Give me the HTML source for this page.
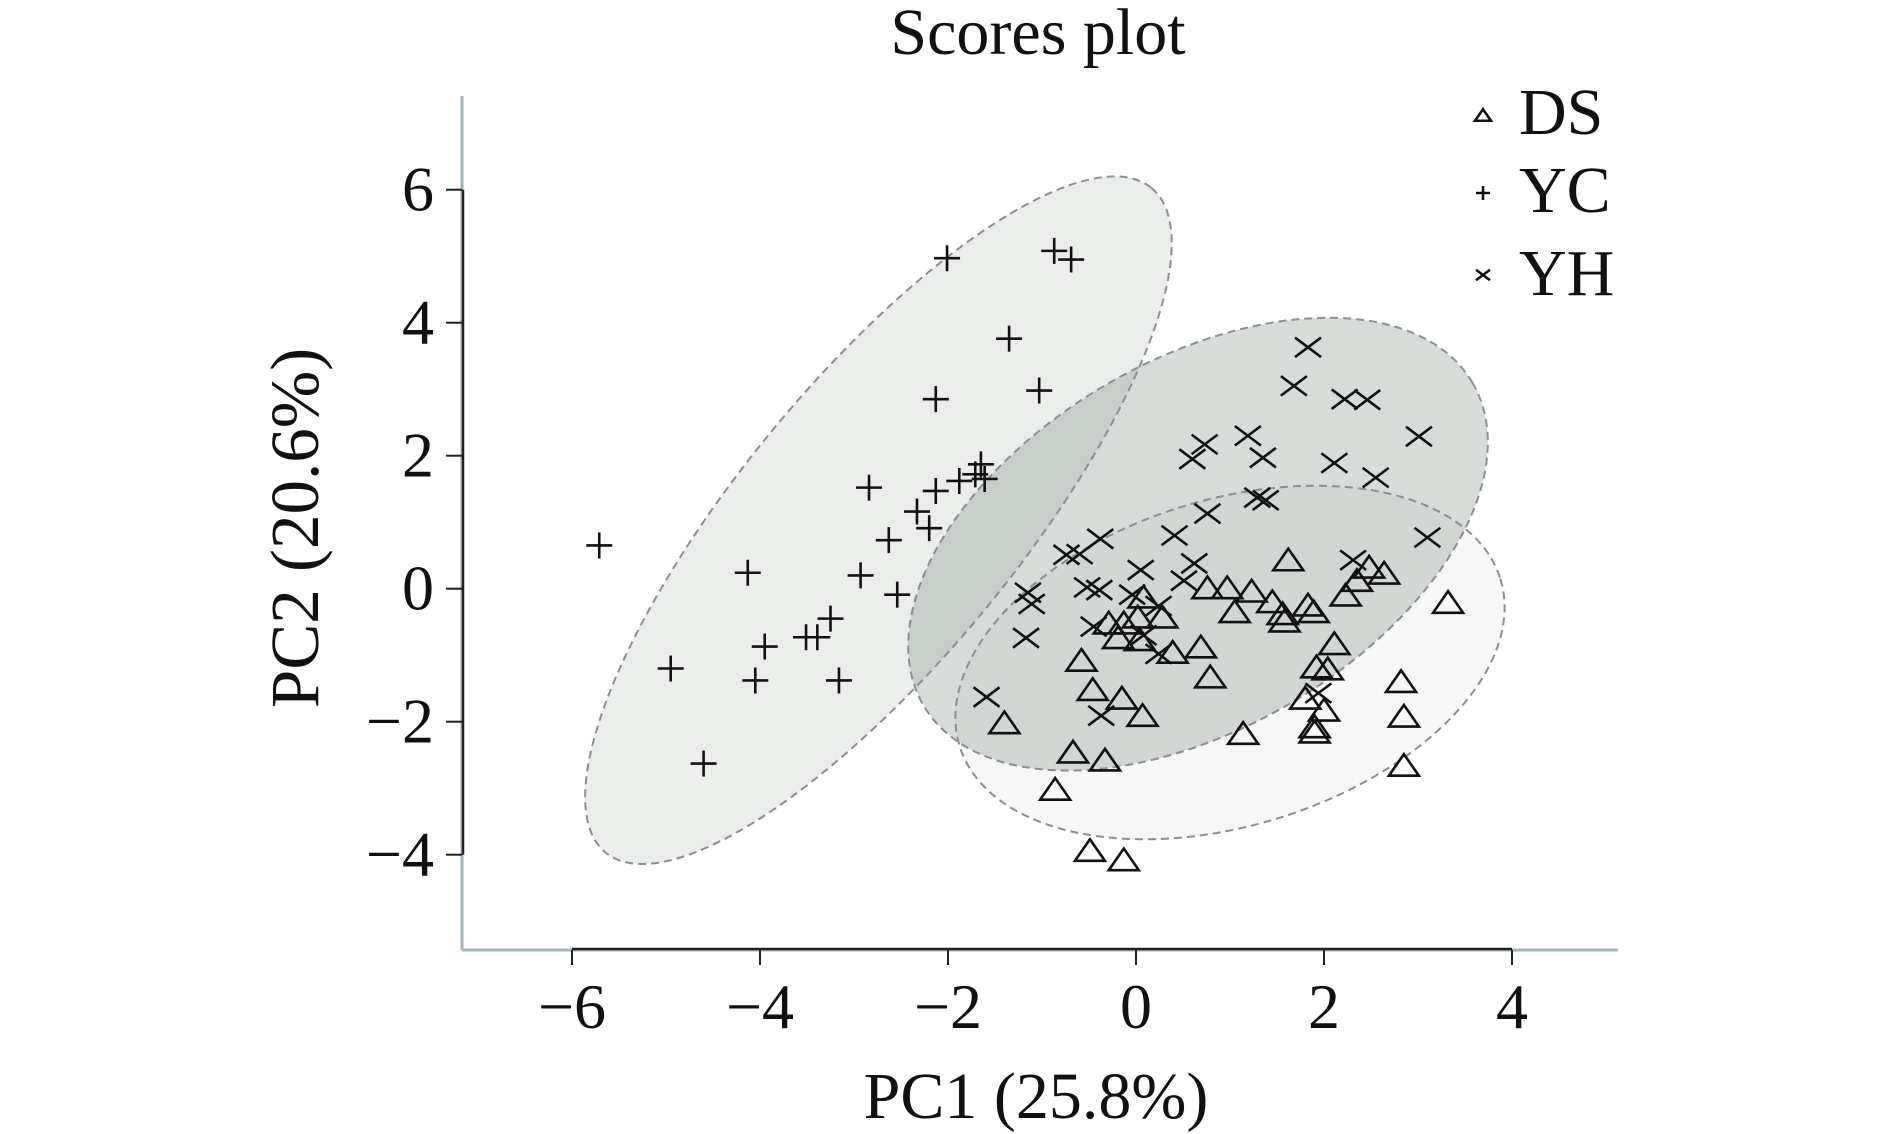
<!DOCTYPE html>
<html><head><meta charset="utf-8"><style>
html,body{margin:0;padding:0;background:#fff;}
svg{display:block;font-family:"Liberation Serif",serif;}
</style></head><body>
<svg id="chart" width="1890" height="1134" viewBox="0 0 1890 1134">
<g id="ell"></g><g id="pts"></g><g id="axes"></g>
<text x="1038" y="54" text-anchor="middle" font-size="66" fill="#111">Scores plot</text>
<text x="1036" y="1118" text-anchor="middle" font-size="66" fill="#111">PC1 (25.8%)</text>
<text transform="translate(318 528) rotate(-90)" text-anchor="middle" font-size="69" fill="#111">PC2 (20.6%)</text>
</svg>
<script>
const xTicks=[-6,-4,-2,0,2,4];
const yTicks=[-4,-2,0,2,4,6];
const dsX=[1.62,0.76,0.97,1.23,1.45,1.83,1.89,1.56,1.58,1.05,2.23,2.35,2.48,2.64,3.32,0.08,-0.29,-0.13,0.02,0.28,-0.19,0.04,0.39,0.69,-0.58,0.79,2.11,1.92,2.04,2.82,-0.46,-0.15,0.07,1.80,2.00,2.85,1.90,1.90,1.14,-1.40,-0.67,-0.33,2.85,-0.86,-0.49,-0.13];
const dsY=[0.44,0.02,0.02,-0.03,-0.19,-0.24,-0.34,-0.37,-0.48,-0.34,-0.09,0.13,0.33,0.24,-0.20,-0.12,-0.51,-0.51,-0.42,-0.42,-0.73,-0.76,-0.95,-0.87,-1.07,-1.32,-0.82,-1.17,-1.20,-1.39,-1.51,-1.64,-1.90,-1.64,-1.82,-1.91,-2.07,-2.15,-2.17,-2.01,-2.45,-2.57,-2.65,-3.01,-3.93,-4.07];
const ycX=[-5.71,-4.95,-4.60,-4.13,-4.05,-3.95,-3.51,-3.39,-3.25,-3.16,-2.93,-2.84,-2.63,-2.54,-2.33,-2.20,-2.13,-2.13,-2.01,-1.88,-1.71,-1.65,-1.61,-1.35,-1.03,-0.87,-0.69];
const ycY=[0.65,-1.20,-2.63,0.24,-1.38,-0.87,-0.73,-0.73,-0.45,-1.38,0.20,1.52,0.73,-0.09,1.16,0.91,1.47,2.85,4.97,1.62,1.72,1.87,1.65,3.76,2.98,5.08,4.95];
const yhX=[1.83,1.68,2.22,2.46,3.01,0.73,0.60,1.19,1.35,2.11,2.55,1.29,1.38,0.76,0.41,-0.38,-0.74,-0.60,3.10,0.62,0.05,0.51,2.31,-1.15,-1.11,-0.52,-0.39,-0.04,0.24,-0.45,-1.17,0.08,0.24,-1.59,-0.37,1.94];
const yhY=[3.63,3.05,2.85,2.84,2.29,2.17,1.95,2.30,1.97,1.89,1.67,1.37,1.33,1.13,0.80,0.75,0.51,0.52,0.77,0.38,0.28,0.12,0.43,-0.06,-0.23,0.02,-0.02,-0.09,-0.26,-0.57,-0.74,-0.70,-0.98,-1.63,-1.91,-1.57];
// confidence ellipse centers (data units)
const ellNames=['ds-ellipse','yc-ellipse','yh-ellipse'];
const ellCX=[1.00,-2.74,0.66];
const ellCY=[-1.11,1.03,0.67];

const NS='http://www.w3.org/2000/svg';
const X0=1136,XU=94,Y0=588.7,YU=66.5;
const sx=v=>X0+v*XU, sy=v=>Y0-v*YU;
function mk(tag,attrs,parent){const e=document.createElementNS(NS,tag);for(const k in attrs)e.setAttribute(k,attrs[k]);parent.appendChild(e);return e;}
const ell=document.getElementById('ell'),pts=document.getElementById('pts'),axes=document.getElementById('axes');
const ellA=[283,430,318.4],ellB=[163,139,184],ellR=[-17.2,-50.6,-30.5];
const ellFill=['#d8d8d8','#8c9c8c','#7a8a80'],ellOp=[0.2,0.18,0.3];
for(let i=0;i<3;i++){
  const e=mk('ellipse',{cx:sx(ellCX[i]),cy:sy(ellCY[i]),rx:ellA[i],ry:ellB[i],transform:`rotate(${ellR[i]} ${sx(ellCX[i])} ${sy(ellCY[i])})`,fill:ellFill[i],'fill-opacity':ellOp[i],stroke:'none'},ell);
  
  
}
for(let i=0;i<3;i++){
  const e=mk('ellipse',{cx:sx(ellCX[i]),cy:sy(ellCY[i]),rx:ellA[i],ry:ellB[i],transform:`rotate(${ellR[i]} ${sx(ellCX[i])} ${sy(ellCY[i])})`,fill:'none',stroke:'#8a8e90','stroke-width':2,'stroke-dasharray':'8 5'},ell);
  
  
}
function tri(x,y,s,p){return mk('path',{d:`M${x-s} ${y+s*0.72}L${x+s} ${y+s*0.72}L${x} ${y-s*0.72}Z`,fill:'none',stroke:'#111','stroke-width':2.6,'stroke-linejoin':'miter'},p);}
function plus(x,y,s,p){return mk('path',{d:`M${x-s} ${y}H${x+s}M${x} ${y-s}V${y+s}`,stroke:'#111','stroke-width':2.6,fill:'none'},p);}
function cross(x,y,s,p){return mk('path',{d:`M${x-s} ${y-s*0.75}L${x+s} ${y+s*0.75}M${x-s} ${y+s*0.75}L${x+s} ${y-s*0.75}`,stroke:'#111','stroke-width':2.6,fill:'none'},p);}
for(let i=0;i<yhX.length;i++){const e=cross(sx(yhX[i]),sy(yhY[i]),13,pts);
  
  }
for(let i=0;i<ycX.length;i++){const e=plus(sx(ycX[i]),sy(ycY[i]),13,pts);
  
  }
for(let i=0;i<dsX.length;i++){const e=tri(sx(dsX[i]),sy(dsY[i]),15,pts);
  
  }
// axes
const AX=462,AB=950;
mk('line',{x1:AX,y1:96,x2:AX,y2:AB,stroke:'#a3b5bc','stroke-width':3},axes);
mk('line',{x1:AX,y1:AB,x2:1618,y2:AB,stroke:'#a3b5bc','stroke-width':3},axes);
mk('line',{x1:AX+1,y1:sy(6),x2:AX+1,y2:sy(-4),stroke:'#222','stroke-width':2.5},axes);
mk('line',{x1:sx(-6),y1:AB-1,x2:sx(4),y2:AB-1,stroke:'#222','stroke-width':2.5},axes);
for(const v of xTicks){
  mk('line',{x1:sx(v),y1:AB,x2:sx(v),y2:AB+15,stroke:'#222','stroke-width':2},axes);
  const t=mk('text',{x:sx(v),y:1028,'text-anchor':'middle','font-size':64,fill:'#111'},axes);
  t.textContent=(v<0?'\u2212':'')+Math.abs(v);
  
  
}
for(const v of yTicks){
  mk('line',{x1:AX-16,y1:sy(v),x2:AX,y2:sy(v),stroke:'#222','stroke-width':2},axes);
  const t=mk('text',{x:434,y:sy(v)+21,'text-anchor':'end','font-size':64,fill:'#111'},axes);
  t.textContent=(v<0?'\u2212':'')+Math.abs(v);
  
  
}
// legend
const lg=mk('g',{},axes);


tri(1483,115,8,lg);plus(1483,193,7,lg);cross(1483,275,7,lg);
[['DS',134],['YC',212],['YH',295]].forEach(([s,y])=>{const t=mk('text',{x:1519,y:y,'font-size':66,fill:'#111'},lg);t.textContent=s;
  
  });
</script>
</body></html>
